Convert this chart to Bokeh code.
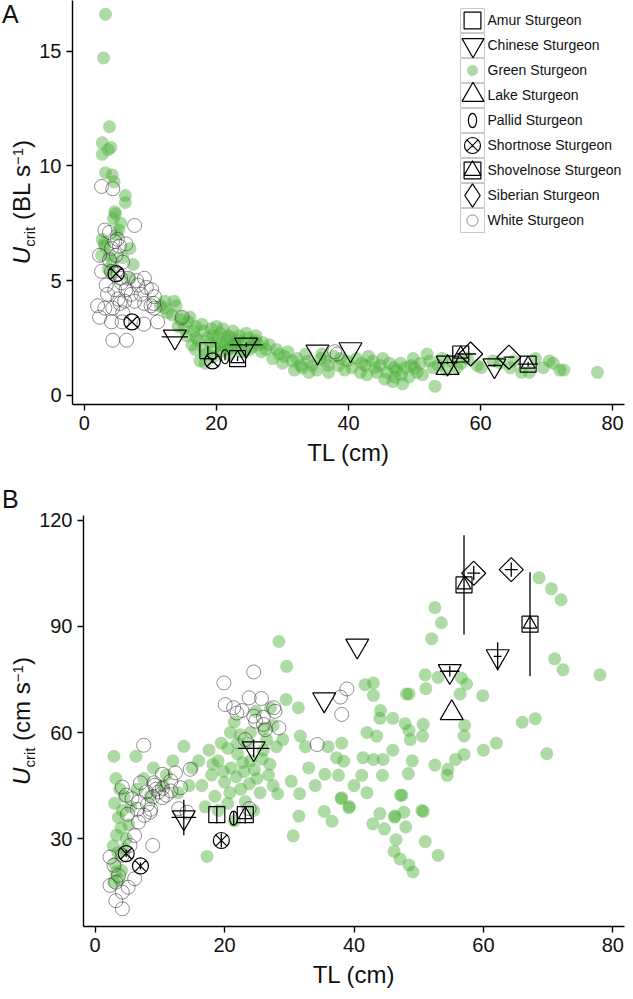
import math
from bokeh.plotting import figure
from bokeh.models import Range1d, FixedTicker, Legend, LegendItem, Div
from bokeh.layouts import column, row
from bokeh.embed import file_html
from bokeh.resources import INLINE

FONT = "Liberation Sans"

# ---------------- tick labels ----------------
X_TICKS = [0, 20, 40, 60, 80]
YA_TICKS = [0, 5, 10, 15]
YB_TICKS = [30, 60, 90, 120]

SPECIES = ["Amur Sturgeon", "Chinese Sturgeon", "Green Sturgeon", "Lake Sturgeon",
           "Pallid Sturgeon", "Shortnose Sturgeon", "Shovelnose Sturgeon",
           "Siberian Sturgeon", "White Sturgeon"]

# ---------------- panel A : Ucrit (BL/s) vs TL (cm) ----------------
GREEN_A = [
    (3.2, 16.6), (2.9, 14.7), (3.8, 11.7), (2.7, 11.0), (4.0, 10.8), (3.6, 10.7), (2.7, 10.5),
    (3.2, 9.7), (4.2, 9.6), (4.5, 9.3), (6.2, 8.7), (6.2, 8.4), (4.6, 8.0), (4.7, 7.9), (4.4, 7.7),
    (5.5, 7.5), (5.2, 7.2), (2.7, 6.8), (3.1, 6.5), (6.9, 6.4), (3.8, 6.1), (2.6, 6.1), (4.3, 5.8),
    (7.4, 5.7), (3.6, 5.5), (6.9, 5.1), (4.1, 5.3), (3.0, 6.6), (4.9, 7.0), (5.8, 6.0),
    (12.2, 4.1), (13.6, 4.1), (12.1, 3.8), (12.6, 3.6), (13.3, 3.5), (14.8, 3.4), (15.7, 3.2),
    (13.9, 3.9), (11.5, 3.9), (16.0, 3.4), (14.2, 3.0), (15.1, 2.9), (16.9, 3.0), (16.3, 2.2),
    (16.9, 2.5), (17.5, 1.5), (15.5, 2.6), (16.5, 2.8), (14.5, 3.3),
    (18.1, 2.8), (20.0, 3.0), (20.6, 2.7), (22.1, 2.5), (18.7, 2.5), (18.1, 2.0), (20.6, 2.2),
    (23.0, 2.2), (25.4, 2.1), (26.3, 2.2), (19.6, 1.7), (21.8, 2.0), (24.2, 1.9), (17.8, 3.1),
    (19.2, 2.9), (21.0, 2.9), (22.5, 2.8), (23.5, 2.6), (24.8, 2.5), (25.9, 2.4), (27.0, 2.3),
    (19.0, 2.3), (20.2, 2.5), (21.5, 2.4), (22.8, 2.3), (24.0, 2.3), (25.0, 2.0), (26.8, 1.9),
    (17.2, 2.4), (18.5, 1.8), (19.8, 2.1), (21.2, 2.1), (22.0, 1.8), (23.7, 1.9), (26.0, 2.6),
    (27.5, 2.0), (18.3, 1.4), (20.8, 1.9), (22.3, 2.1), (25.6, 2.3), (28.0, 2.2), (19.5, 2.6),
    (24.5, 2.7), (21.8, 2.6), (16.8, 2.0), (23.2, 2.4),
    (29.1, 2.0), (30.3, 1.7), (31.5, 1.5), (32.7, 1.3), (31.8, 1.1), (33.9, 1.5), (35.2, 1.1),
    (36.4, 1.5), (37.0, 1.0), (38.8, 1.6), (39.4, 1.1), (29.5, 1.8), (30.8, 1.9), (32.2, 1.6),
    (33.5, 1.8), (34.5, 1.3), (35.8, 1.6), (36.9, 1.3), (37.8, 1.7), (38.5, 1.3), (39.8, 1.5),
    (34.0, 1.0), (30.0, 1.4), (33.0, 1.2), (36.0, 1.8), (28.5, 1.6),
    (41.2, 1.6), (42.5, 1.3), (43.7, 1.5), (42.8, 0.9), (44.3, 1.0), (45.5, 0.7), (46.7, 0.6),
    (47.3, 1.1), (48.2, 0.5), (47.9, 1.4), (49.8, 1.6), (50.4, 1.0), (51.9, 1.8), (52.8, 1.2),
    (53.1, 0.4), (40.5, 1.2), (41.8, 1.0), (43.0, 1.7), (44.8, 1.3), (45.8, 1.0), (46.2, 1.4),
    (47.0, 0.8), (48.6, 1.2), (49.2, 0.8), (49.5, 1.3), (50.9, 1.4), (51.2, 0.9), (52.3, 1.5),
    (53.6, 1.3), (54.2, 1.6), (55.5, 1.5), (44.0, 1.2), (45.2, 1.6), (46.9, 1.2), (48.0, 0.9),
    (50.0, 1.2), (42.0, 1.4), (54.8, 1.1),
    (56.4, 1.2), (57.1, 1.4), (60.1, 1.2), (61.9, 1.5), (65.0, 1.5), (66.2, 1.0), (67.4, 1.0),
    (68.3, 1.6), (70.4, 1.5), (72.0, 1.1), (72.6, 1.1), (77.7, 1.0), (58.0, 1.6), (59.5, 1.3),
    (63.0, 1.4), (69.5, 1.2), (71.0, 1.4), (64.5, 1.2),
]
WHITE_A = [
    (2.6, 9.1), (4.3, 9.0), (7.6, 7.4), (3.1, 7.2), (3.8, 7.1), (4.6, 6.7), (5.0, 6.8), (6.3, 6.6),
    (4.1, 6.4), (5.3, 6.5), (2.3, 6.1), (3.8, 5.9), (4.8, 6.1), (5.8, 5.8), (2.6, 5.4), (4.1, 5.4),
    (5.1, 5.3), (5.5, 5.1), (5.6, 4.9), (6.6, 5.1), (7.9, 5.0), (9.1, 5.1), (8.1, 4.8), (9.4, 4.7),
    (10.2, 4.6), (3.3, 4.8), (4.6, 4.6), (6.3, 4.6), (7.1, 4.4), (8.6, 4.4), (10.6, 4.3),
    (3.5, 4.4), (5.1, 4.2), (6.1, 4.1), (7.6, 4.1), (9.1, 4.0), (10.1, 3.9), (3.1, 3.8),
    (4.3, 3.8), (5.8, 3.6), (10.6, 3.8), (2.0, 3.9), (5.4, 4.0), (10.5, 4.0), (2.3, 3.4),
    (4.1, 3.2), (5.7, 3.2), (9.0, 3.1), (11.1, 3.2), (4.3, 2.4), (6.4, 2.4), (14.8, 3.4),
    (37.9, 1.9), (38.3, 1.8),
]
# named species: (TL, U, x error, y error)
AMUR_A = [(18.7, 1.95, 0.0, 0.2)]
CHINESE_A = [(13.7, 2.55, 2.0, 0.0), (24.5, 2.2, 2.5, 0.1), (35.3, 1.9, 0.0, 0.0),
             (40.3, 2.0, 0.0, 0.0), (55.0, 1.42, 1.5, 0.05), (62.1, 1.3, 1.0, 0.05)]
LAKE_A = [(55.0, 1.2, 0.0, 0.0)]
PALLID_A = [(21.3, 1.68, 0.0, 0.15)]
SHORTNOSE_A = [(4.8, 5.3, 0.0, 0.0), (7.2, 3.2, 0.0, 0.0), (19.4, 1.5, 0.0, 0.1)]
SHOVELNOSE_A = [(23.2, 1.6, 0.0, 0.1), (57.0, 1.8, 0.6, 0.0), (67.2, 1.36, 1.5, 0.1)]
SIBERIAN_A = [(58.5, 1.8, 0.8, 0.0), (64.3, 1.66, 0.8, 0.0)]

# ---------------- panel B : Ucrit (cm/s) vs TL (cm) ----------------
GREEN_B = [
    (2.9, 17.7), (3.2, 20.5), (3.0, 23.0), (3.5, 26.0), (2.8, 28.0), (3.3, 31.0), (4.0, 33.0),
    (3.6, 36.0), (4.2, 38.0), (3.0, 40.0), (4.5, 42.0), (3.8, 44.0), (2.9, 53.3), (4.8, 30.0),
    (5.2, 34.0), (4.6, 27.0), (5.5, 39.0), (3.2, 47.0), (6.3, 53.3), (4.1, 21.0), (3.7, 18.5),
    (7.5, 47.0), (9.0, 50.0), (10.5, 45.0), (12.0, 52.0), (13.7, 56.1), (8.5, 42.0), (11.0, 48.0),
    (14.5, 45.0), (6.5, 44.0), (12.8, 43.0), (15.0, 50.0),
    (17.6, 55.0), (17.3, 25.0), (20.9, 60.0), (22.4, 59.4), (24.0, 60.0), (26.0, 61.0),
    (27.5, 62.0), (16.5, 45.0), (18.0, 48.0), (19.0, 52.0), (20.0, 46.0), (21.0, 50.0),
    (22.0, 54.0), (23.0, 49.0), (24.0, 52.0), (25.0, 47.0), (26.0, 55.0), (27.0, 51.0),
    (28.0, 56.0), (18.5, 42.0), (20.5, 40.0), (22.5, 44.0), (25.5, 43.0), (27.5, 45.0),
    (16.0, 52.0), (19.5, 57.0), (23.5, 57.0), (26.5, 58.0), (21.5, 63.0), (24.8, 66.0),
    (28.4, 85.7), (29.6, 78.7), (29.5, 69.3), (27.1, 67.0), (31.4, 67.0), (29.0, 58.0),
    (19.0, 38.0), (21.5, 35.0), (24.5, 38.0), (17.0, 39.0),
    (20.5, 55.5), (22.8, 51.5), (24.6, 49.5), (21.8, 47.5), (23.8, 45.5), (19.8, 49.0),
    (25.8, 52.5), (18.2, 51.0), (22.0, 57.0), (26.8, 48.0), (20.8, 43.0), (23.2, 40.5),
    (31.7, 59.0), (32.5, 56.0), (38.1, 57.0), (36.0, 56.0), (38.4, 51.9), (37.3, 52.9),
    (41.4, 52.9), (43.0, 52.4), (44.5, 52.4), (41.2, 47.9), (44.4, 47.9), (37.6, 47.9),
    (35.5, 48.2), (39.3, 39.1), (38.1, 41.6), (28.2, 42.7), (30.3, 46.2), (31.6, 42.7),
    (31.5, 36.4), (30.6, 30.8), (35.4, 37.7), (36.6, 34.9), (38.0, 41.3), (39.2, 38.8),
    (42.9, 34.2), (44.0, 37.1), (44.7, 32.8), (41.7, 73.5), (43.0, 74.0), (43.0, 70.5),
    (44.1, 66.2), (44.0, 64.0), (42.0, 60.0), (43.5, 59.0), (33.0, 50.0), (34.0, 45.0),
    (40.0, 45.0), (42.0, 43.0),
    (46.3, 36.1), (47.4, 42.3), (47.7, 37.5), (48.0, 33.3), (46.5, 29.7), (46.2, 26.4),
    (47.1, 24.3), (48.5, 22.6), (49.1, 20.6), (51.0, 29.2), (50.7, 37.7), (53.0, 25.3),
    (54.4, 47.9), (48.1, 70.9), (48.5, 70.9), (46.0, 64.0), (47.9, 62.5), (50.7, 62.3),
    (48.5, 60.6), (48.7, 58.0), (50.6, 59.0), (48.4, 48.4), (47.2, 42.3), (50.5, 38.0),
    (46.3, 36.4), (52.5, 95.3), (53.5, 91.0), (52.0, 86.5), (51.0, 76.3), (53.0, 75.6),
    (51.1, 72.4), (52.5, 50.8), (54.5, 49.6), (55.7, 52.4), (46.0, 55.0), (49.0, 52.0),
    (56.6, 75.4), (57.4, 73.7), (56.4, 70.9), (59.9, 70.4), (57.1, 62.0), (57.0, 59.0),
    (57.0, 53.8), (66.0, 62.9), (68.0, 63.9), (69.8, 54.0), (68.6, 103.7), (70.5, 100.6),
    (72.0, 97.5), (71.0, 80.8), (72.3, 77.7), (78.0, 76.3), (60.0, 55.0), (62.0, 57.0),
]
WHITE_B = [
    (24.5, 77.1), (19.9, 74.0), (23.8, 69.8), (25.7, 69.6), (20.1, 67.9), (21.4, 67.0),
    (22.7, 66.2), (21.9, 65.5), (24.5, 64.6), (26.0, 64.3), (27.6, 67.0), (27.8, 66.0),
    (24.8, 63.2), (26.0, 62.3), (28.4, 61.3), (26.3, 60.8), (23.2, 58.0), (34.3, 56.6),
    (37.9, 70.0), (38.9, 72.3), (38.1, 65.1), (7.5, 56.4),
    (10.4, 48.2), (11.7, 46.3), (9.1, 45.8), (14.7, 49.6), (12.4, 48.6), (7.0, 45.8),
    (9.4, 44.0), (10.4, 41.6), (8.1, 39.7), (6.5, 38.3), (5.0, 36.9), (8.6, 38.3),
    (11.7, 43.5), (13.2, 44.4),
    (4.8, 42.3), (4.2, 44.6), (5.7, 41.3), (6.7, 40.4), (7.9, 43.2), (8.9, 41.8), (9.8, 43.2),
    (10.4, 44.2), (11.0, 42.3), (9.2, 45.1), (7.6, 36.6), (8.5, 37.5), (6.7, 34.7), (6.1, 30.9),
    (8.9, 28.1), (5.4, 28.1), (4.2, 25.3), (2.9, 22.5), (2.3, 24.8), (3.6, 19.6), (2.3, 16.8),
    (4.2, 14.9), (3.2, 17.7), (5.1, 16.3), (6.1, 18.7), (3.2, 12.5), (4.2, 10.2),
    (12.9, 38.5), (14.2, 37.5), (23.8, 38.5),
]
AMUR_B = [(18.8, 36.8, 0.0, 2.5)]
CHINESE_B = [(13.7, 36.0, 1.9, 5.0), (24.5, 55.5, 2.4, 2.5), (35.4, 69.3, 0.0, 0.0),
             (40.5, 84.5, 0.0, 0.0), (54.8, 77.3, 1.5, 1.5), (62.2, 81.5, 0.6, 4.0)]
LAKE_B = [(55.1, 65.5, 0.0, 0.0)]
PALLID_B = [(21.4, 35.8, 0.0, 2.0)]
SHORTNOSE_B = [(4.8, 25.8, 0.0, 1.0), (7.0, 22.3, 0.0, 1.0), (19.5, 29.5, 0.0, 2.0)]
SHOVELNOSE_B = [(23.2, 36.8, 0.0, 2.5), (57.0, 101.7, 0.0, 14.0), (67.2, 90.6, 0.0, 14.7)]
SIBERIAN_B = [(58.5, 105.0, 1.0, 2.0), (64.3, 106.0, 1.0, 2.0)]

GREEN_COL = "#4caf37"
INK = "#111111"


def cols(rows):
    return ([r[0] for r in rows], [r[1] for r in rows])


def style(p, yticks):
    p.grid.visible = False
    p.outline_line_color = None
    p.xaxis.ticker = FixedTicker(ticks=X_TICKS)
    p.yaxis.ticker = FixedTicker(ticks=yticks)
    for ax in (p.xaxis[0], p.yaxis[0]):
        ax.axis_line_width = 1.4
        ax.axis_line_color = "black"
        ax.major_tick_line_color = "black"
        ax.major_tick_line_width = 1.4
        ax.major_tick_out = 6
        ax.major_tick_in = 0
        ax.minor_tick_line_color = None
        ax.major_label_text_font = FONT
        ax.major_label_text_font_size = "20px"
        ax.major_label_text_color = INK
        ax.major_label_standoff = 5
        ax.axis_label_text_font = FONT
        ax.axis_label_text_font_size = "24px"
        ax.axis_label_text_font_style = "normal"
        ax.axis_label_text_color = INK
    p.xaxis.axis_label = "TL (cm)"
    p.xaxis.axis_label_standoff = 6


def side_div(letter, unit, width, height, center_y):
    html = (
        f'<div style="position:relative;width:{width}px;height:{height}px;'
        f'font-family:\'{FONT}\';color:{INK};">'
        f'<div style="position:absolute;left:2px;top:0px;font-size:25px;line-height:29px;">'
        f'{letter}</div>'
        f'<div style="position:absolute;left:22px;top:{center_y}px;'
        f'transform:translate(-50%,-50%) rotate(-90deg);white-space:nowrap;'
        f'font-size:24px;line-height:24px;">'
        f'<i>U</i><span style="font-size:15px;line-height:15px;position:relative;top:5px;">crit</span>'
        f' ({unit} s<span style="font-size:15px;line-height:15px;position:relative;top:-7px;">'
        f'\u22121</span>)'
        f'</div></div>')
    return Div(text=html, width=width, height=height, margin=(0, 0, 0, 0))


def errbars(p, rows):
    x0, y0, x1, y1 = [], [], [], []
    for t, u, ex, ey in rows:
        if ex > 0:
            x0.append(t - ex); x1.append(t + ex); y0.append(u); y1.append(u)
        if ey > 0:
            x0.append(t); x1.append(t); y0.append(u - ey); y1.append(u + ey)
    if x0:
        p.segment(x0=x0, y0=y0, x1=x1, y1=y1, line_color="black", line_width=1.3)


def draw_panel(p, green, white, amur, chinese, lake, pallid, shortnose, shovel, siberian):
    r = {}
    gx, gy = cols(green)
    r["Green Sturgeon"] = [p.scatter(gx, gy, marker="circle", size=13, fill_color=GREEN_COL,
                                     fill_alpha=0.45, line_color=None)]
    wx, wy = cols(white)
    r["White Sturgeon"] = [p.scatter(wx, wy, marker="circle", size=14, fill_color=None,
                                     line_color="#333333", line_alpha=0.55, line_width=1)]
    for rows in (amur, chinese, pallid, shortnose, shovel, siberian):
        errbars(p, rows)
    kw = dict(fill_color=None, line_color="black", line_width=1.2)
    x, y = cols(amur)
    r["Amur Sturgeon"] = [p.scatter(x, y, marker="square", size=16, **kw)]
    x, y = cols(chinese)
    r["Chinese Sturgeon"] = [p.scatter(x, y, marker="inverted_triangle", size=23, **kw)]
    x, y = cols(lake)
    r["Lake Sturgeon"] = [p.scatter(x, y, marker="triangle", size=23, **kw)]
    x, y = cols(pallid)
    r["Pallid Sturgeon"] = [p.ellipse(x, y, width=8, height=14, width_units="screen",
                                      height_units="screen", **kw)]
    x, y = cols(shortnose)
    r["Shortnose Sturgeon"] = [p.scatter(x, y, marker="circle_x", size=16, **kw)]
    x, y = cols(shovel)
    r["Shovelnose Sturgeon"] = [p.scatter(x, y, marker="square", size=16, **kw),
                                p.scatter(x, y, marker="triangle", size=14, **kw)]
    x, y = cols(siberian)
    r["Siberian Sturgeon"] = [p.scatter(x, y, marker="square", size=17, angle=math.pi / 4, **kw)]
    # legend-only diamond (legend keys ignore marker angle)
    r["Siberian key"] = [p.scatter(x[:1], y[:1], marker="diamond", size=10, visible=False, **kw)]
    return r


# ---------------- panel A ----------------
DIV_W = 36
HA = 485
WA = 625 - DIV_W
LA, RA, TA, BA = 35, 1, 0, 81
FHA = HA - TA - BA
pA = figure(width=WA, height=HA, output_backend="svg", toolbar_location=None,
            x_range=Range1d(-1.8, 81.8), y_range=Range1d(-0.4, 17.2),
            min_border_left=LA, min_border_right=RA, min_border_top=TA, min_border_bottom=BA)
style(pA, YA_TICKS)
rendA = draw_panel(pA, GREEN_A, WHITE_A, AMUR_A, CHINESE_A, LAKE_A, PALLID_A, SHORTNOSE_A,
                   SHOVELNOSE_A, SIBERIAN_A)

# legend: gray key boxes, keys (each with its own size) and one legend holding the labels
KEY_SIZE = {"Amur Sturgeon": 17, "Chinese Sturgeon": 22, "Green Sturgeon": 11,
            "Lake Sturgeon": 22, "Pallid Sturgeon": 7, "Shortnose Sturgeon": 16,
            "Shovelnose Sturgeon": 17, "Siberian Sturgeon": 23, "White Sturgeon": 11}
kx, ky = cols(AMUR_A)
box_r = pA.scatter(kx, ky, marker="square", size=10, fill_color=None, line_color="#c9c9c9",
                   line_width=1, visible=False)
ghost = pA.scatter(kx, ky, marker="circle", size=1, fill_alpha=0, line_alpha=0, visible=False)
KEY_CX = 400          # key column centre, px from frame left
STEP = 25             # row height
TOP_GAP = 7           # legend top below frame top
leg_top = FHA - TOP_GAP
for i, name in enumerate(SPECIES):
    cy = leg_top - STEP / 2 - i * STEP
    g = 60
    pA.add_layout(Legend(items=[LegendItem(label="", renderers=[box_r])],
                         location=(KEY_CX - g / 2, cy - g / 2), glyph_width=g, glyph_height=g,
                         padding=0, margin=0, spacing=0, label_standoff=0,
                         border_line_color=None, background_fill_alpha=0,
                         label_text_font_size="1px"))
    g = int(round(KEY_SIZE[name] / 0.4))
    rend = rendA["Siberian key"] if name == "Siberian Sturgeon" else rendA[name]
    pA.add_layout(Legend(items=[LegendItem(label="", renderers=rend)],
                         location=(KEY_CX - g / 2, cy - g / 2), glyph_width=g, glyph_height=g,
                         padding=0, margin=0, spacing=0, label_standoff=0,
                         border_line_color=None, background_fill_alpha=0,
                         label_text_font_size="1px"))
pA.add_layout(Legend(items=[LegendItem(label=n, renderers=[ghost]) for n in SPECIES],
                     location=(KEY_CX - STEP / 2, leg_top - len(SPECIES) * STEP),
                     glyph_width=STEP, glyph_height=STEP, padding=0, margin=0, spacing=0,
                     label_standoff=3, label_height=STEP, border_line_color=None,
                     background_fill_alpha=0, label_text_font=FONT,
                     label_text_font_size="14px", label_text_color=INK))

# ---------------- panel B ----------------
HB = 991 - HA
WB = 625 - DIV_W
LB, RB, TB, BB = 46, 1, 30, 65
FHB = HB - TB - BB
pB = figure(width=WB, height=HB, output_backend="svg", toolbar_location=None,
            x_range=Range1d(-1.8, 81.8), y_range=Range1d(5.2, 121.3),
            min_border_left=LB, min_border_right=RB, min_border_top=TB, min_border_bottom=BB)
style(pB, YB_TICKS)
draw_panel(pB, GREEN_B, WHITE_B, AMUR_B, CHINESE_B, LAKE_B, PALLID_B, SHORTNOSE_B,
           SHOVELNOSE_B, SIBERIAN_B)

divA = side_div("A", "BL", DIV_W, HA, TA + FHA / 2)
divB = side_div("B", "cm", DIV_W, HB, TB + FHB / 2)

layout = column(row(divA, pA, spacing=0), row(divB, pB, spacing=0), spacing=0)
open("out.html", "w").write(file_html(layout, INLINE))
